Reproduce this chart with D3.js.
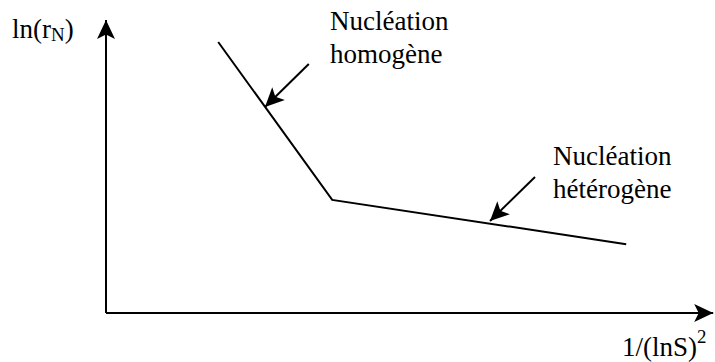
<!DOCTYPE html>
<html>
<head>
<meta charset="utf-8">
<script src="https://cdn.jsdelivr.net/npm/d3@7"></script>
<style>
  body { margin: 0; background: #fff; }
</style>
</head>
<body>
<script>
// polyline of ln(rN) vs 1/(lnS)^2, in arbitrary units
var curveX = [1.87, 3.77, 8.67];
var curveY = [9.25, 3.86, 2.35];

// annotation arrows: [x0, y0, x1, y1] (tail -> head)
var arrowHomo = [3.38, 8.5, 2.65, 7.03];
var arrowHetero = [7.15, 4.64, 6.4, 3.14];

var labelsHomo = ["Nucléation", "homogène"];
var labelsHetero = ["Nucléation", "hétérogène"];

var width = 715, height = 362;
var origin = {x: 106, y: 313};
var serif = "Liberation Serif";

var x = d3.scaleLinear().domain([0, 10]).range([origin.x, 706]);
var y = d3.scaleLinear().domain([0, 10]).range([origin.y, 20]);

var svg = d3.select("body").append("svg")
    .attr("width", width)
    .attr("height", height);

// notched arrow head, like the word-processor one
var defs = svg.append("defs");
defs.append("marker")
    .attr("id", "head")
    .attr("viewBox", "-21 -10 23 20")
    .attr("markerWidth", 23)
    .attr("markerHeight", 20)
    .attr("markerUnits", "userSpaceOnUse")
    .attr("orient", "auto")
    .append("path")
    .attr("d", "M0,0 L-19,-9 L-14.5,0 L-19,9 Z")
    .attr("fill", "#000");

// axes
svg.append("line")
    .attr("x1", x(0)).attr("y1", y(0))
    .attr("x2", x(0)).attr("y2", y(10))
    .attr("stroke", "#000").attr("stroke-width", 2)
    .attr("marker-end", "url(#head)");

svg.append("line")
    .attr("x1", x(0)).attr("y1", y(0))
    .attr("x2", x(10.12)).attr("y2", y(0))
    .attr("stroke", "#000").attr("stroke-width", 2)
    .attr("marker-end", "url(#head)");

// the curve
var pts = curveX.map(function(d, i) { return [d, curveY[i]]; });
var line = d3.line()
    .x(function(d) { return x(d[0]); })
    .y(function(d) { return y(d[1]); });

svg.append("path")
    .datum(pts)
    .attr("d", line)
    .attr("fill", "none")
    .attr("stroke", "#000")
    .attr("stroke-width", 2);

// annotation arrows
[arrowHomo, arrowHetero].forEach(function(a) {
  svg.append("line")
      .attr("x1", x(a[0])).attr("y1", y(a[1]))
      .attr("x2", x(a[2])).attr("y2", y(a[3]))
      .attr("stroke", "#000").attr("stroke-width", 2)
      .attr("marker-end", "url(#head)");
});

var fs = 27;

// plain text piece, font set on the element itself
function piece(sel, s, size) {
  return sel.append("tspan")
      .style("font-family", serif)
      .style("font-size", size + "px")
      .text(s);
}

function addLabel(lines, px, py) {
  var t = svg.append("text")
      .attr("x", px).attr("y", py)
      .style("font-family", serif)
      .style("font-size", fs + "px");
  lines.forEach(function(s, i) {
    piece(t, s, fs).attr("x", px).attr("dy", i == 0 ? 0 : 32.5);
  });
}

addLabel(labelsHomo, 330, 30);
addLabel(labelsHetero, 553, 165);

// axis titles
var yt = svg.append("text")
    .attr("x", 12).attr("y", 38)
    .style("font-family", serif)
    .style("font-size", fs + "px");
piece(yt, "ln(r", fs);
piece(yt, "N", fs * 0.7).attr("dy", 3);
piece(yt, ")", fs).attr("dy", -3);

var xt = svg.append("text")
    .attr("x", 622).attr("y", 356)
    .style("font-family", serif)
    .style("font-size", fs + "px");
piece(xt, "1/(lnS)", fs);
piece(xt, "2", fs * 0.7).attr("dy", -13);
</script>
</body>
</html>
